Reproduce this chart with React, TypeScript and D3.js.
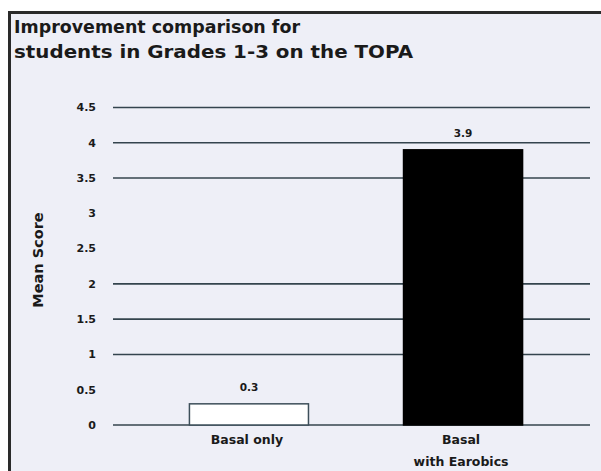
import React from "react";
import * as d3 from "d3";

const categories = ["Basal only", "Basal\nwith Earobics"];
const values = [0.3, 3.9];
const barFills = ["#ffffff", "#000000"];
const yTicks = [0, 0.5, 1, 1.5, 2, 2.5, 3, 3.5, 4, 4.5];
const gridValues = [0, 1, 1.5, 2, 3.5, 4, 4.5];
const titleLines = ["Improvement comparison for", "students in Grades 1-3 on the TOPA"];
const titleWidths = [286, 399];
const yTitle = "Mean Score";

const W = 601;
const H = 471;
const font = "'DejaVu Sans', sans-serif";

export default function App() {
  const y = d3.scaleLinear().domain([0, 4.5]).range([425, 107.5]);
  const x = d3.scaleBand<string>().domain(categories).range([113, 599]).paddingInner(0.444).paddingOuter(0.357);
  const gridX0 = 113;
  const gridX1 = 590;
  return (
    <svg width={W} height={H} style={{ position: "absolute", left: 0, top: 0 }} fontFamily={font}>
      <rect x={0} y={0} width={W} height={H} fill="#ffffff" />
      <rect x={9.5} y={12.5} width={W - 8} height={H + 10} fill="#eeeff7" stroke="#2a2a2a" strokeWidth={3} />
      {titleLines.map((t, i) => (
        <text
          key={i}
          x={14}
          y={33 + i * 25}
          fontSize={17}
          fontWeight={700}
          fill="#1a1a1a"
          textLength={titleWidths[i]}
          lengthAdjust="spacingAndGlyphs"
        >
          {t}
        </text>
      ))}
      {gridValues.map((v) => (
        <line key={v} x1={gridX0} x2={gridX1} y1={y(v)} y2={y(v)} stroke="#34444e" strokeWidth={1.6} />
      ))}
      {yTicks.map((v) => (
        <text key={v} x={96} y={y(v)} dy="0.35em" textAnchor="end" fontSize={11} fontWeight={700} fill="#1a1a1a">
          {String(v)}
        </text>
      ))}
      <text
        transform={`translate(43, 260) rotate(-90)`}
        textAnchor="middle"
        fontSize={14.5}
        fontWeight={700}
        fill="#1a1a1a"
      >
        {yTitle}
      </text>
      {categories.map((c, i) => {
        const bx = x(c) as number;
        const bw = x.bandwidth();
        const cx = bx + bw / 2;
        return (
          <g key={c}>
            <rect
              x={bx}
              y={y(values[i])}
              width={bw}
              height={y(0) - y(values[i])}
              fill={barFills[i]}
              stroke={i === 0 ? "#3d4f5a" : "#000"}
              strokeWidth={1.5}
            />
            <text x={cx} y={y(values[i]) - 13} textAnchor="middle" fontSize={10.5} fontWeight={700} fill="#1a1a1a">
              {String(values[i])}
            </text>
            {c.split("\n").map((line, j) => (
              <text key={j} x={cx - 2} y={444 + j * 22} textAnchor="middle" fontSize={12.5} fontWeight={700} fill="#1a1a1a">
                {line}
              </text>
            ))}
          </g>
        );
      })}
    </svg>
  );
}
